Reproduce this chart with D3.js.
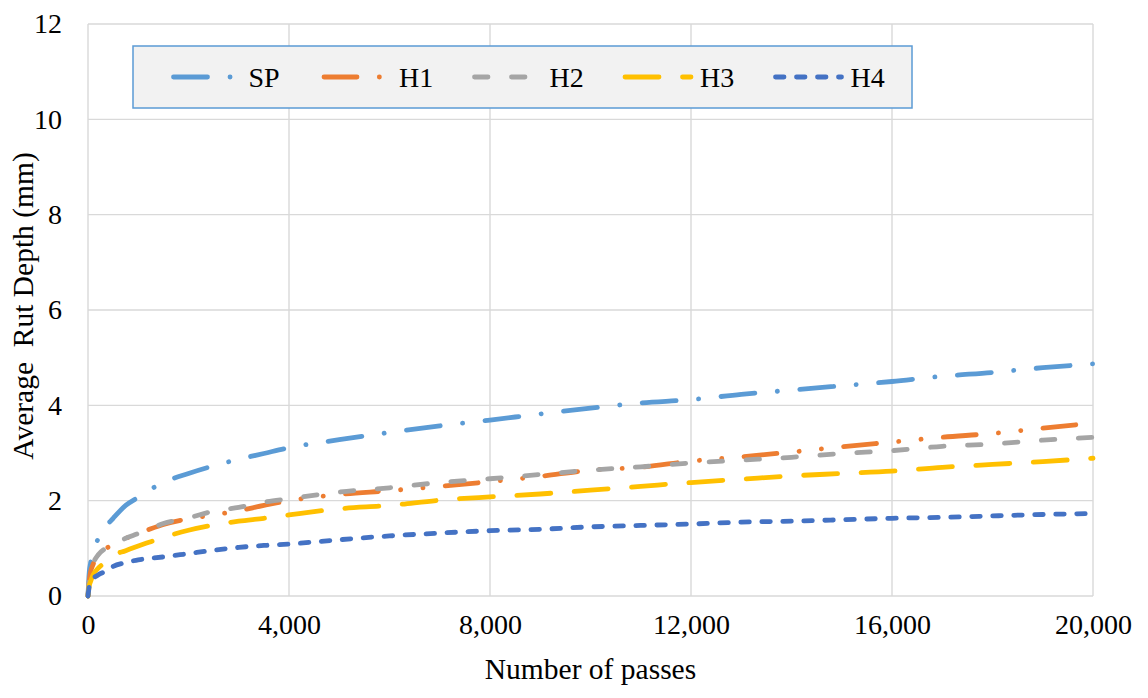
<!DOCTYPE html>
<html>
<head>
<meta charset="utf-8">
<script src="https://cdn.jsdelivr.net/npm/d3@7/dist/d3.min.js"></script>
<style>
  html, body { margin: 0; padding: 0; background: #ffffff; }
  svg { display: block; font-family: "Liberation Serif", "Times New Roman", serif; }
</style>
</head>
<body>
<svg id="chart" width="1148" height="698"></svg>
<script>
// Number of wheel passes at which rut depth is recorded
const passes = [0, 25, 50, 100, 200, 350, 500, 750, 1000, 1250, 1500, 2000, 2500, 3000, 3500, 4000,
  5000, 6000, 7000, 8000, 9000, 10000, 11000, 12000, 13000, 14000, 15000, 16000, 17000, 18000, 19000, 20000];

// Average rut depth (mm) for each mix
const SP = [0, 0.50, 0.68, 0.88, 1.20, 1.45, 1.63, 1.90, 2.07, 2.24, 2.38, 2.57, 2.73, 2.87, 2.99, 3.11,
  3.28, 3.43, 3.57, 3.69, 3.82, 3.94, 4.05, 4.12, 4.23, 4.32, 4.41, 4.50, 4.61, 4.69, 4.79, 4.87];
const H1 = [0, 0.32, 0.50, 0.66, 0.86, 0.99, 1.08, 1.21, 1.31, 1.41, 1.50, 1.62, 1.70, 1.79, 1.90, 2.00,
  2.13, 2.21, 2.30, 2.40, 2.51, 2.64, 2.70, 2.83, 2.92, 3.02, 3.13, 3.23, 3.33, 3.41, 3.52, 3.63];
const H2 = [0, 0.35, 0.52, 0.68, 0.86, 1.00, 1.08, 1.21, 1.31, 1.42, 1.52, 1.64, 1.78, 1.86, 1.97, 2.04,
  2.18, 2.27, 2.38, 2.46, 2.55, 2.64, 2.71, 2.79, 2.85, 2.91, 2.99, 3.05, 3.14, 3.19, 3.27, 3.33];
const H3 = [0, 0.22, 0.30, 0.44, 0.58, 0.71, 0.85, 0.95, 1.05, 1.14, 1.23, 1.38, 1.49, 1.57, 1.63, 1.70,
  1.83, 1.90, 2.01, 2.08, 2.14, 2.22, 2.30, 2.38, 2.45, 2.52, 2.57, 2.62, 2.70, 2.76, 2.82, 2.89];
const H4 = [0, 0.20, 0.27, 0.36, 0.44, 0.52, 0.62, 0.70, 0.76, 0.79, 0.82, 0.89, 0.96, 1.02, 1.06, 1.09,
  1.18, 1.26, 1.32, 1.37, 1.40, 1.45, 1.48, 1.51, 1.55, 1.57, 1.60, 1.63, 1.65, 1.68, 1.71, 1.73];

const seriesNames = ["SP", "H1", "H2", "H3", "H4"];
const seriesValues = [SP, H1, H2, H3, H4];

const xTicks = [0, 4000, 8000, 12000, 16000, 20000];
const yTicks = [0, 2, 4, 6, 8, 10, 12];

const xTitle = "Number of passes";
const yTitle = "Average  Rut Depth (mm)";

// Office palette and line dash styles per series
const colors = ["#5B9BD5", "#ED7D31", "#A5A5A5", "#FFC000", "#4472C4"];
const dashes = [
  "34 22.5 0.1 22.5",            // long dash dot
  "33 22.3 0.1 22.3 0.1 22.3",   // long dash dot dot
  "13.5 23.5",                   // dash
  "34 23.5",                     // long dash
  "8.5 12.5"                     // short dash
];

const W = 1148, H = 698;
const margin = { left: 88, right: 55, top: 24, bottom: 102 };
const svg = d3.select("#chart");

const x = d3.scaleLinear().domain([0, 20000]).range([margin.left, W - margin.right]);
const y = d3.scaleLinear().domain([0, 12]).range([H - margin.bottom, margin.top]);

// gridlines
const grid = svg.append("g").attr("stroke", "#d9d9d9").attr("stroke-width", 1.4);
grid.selectAll("line.h").data(yTicks).join("line")
  .attr("x1", x(0)).attr("x2", x(20000))
  .attr("y1", d => y(d)).attr("y2", d => y(d));
grid.selectAll("line.v").data(xTicks).join("line")
  .attr("x1", d => x(d)).attr("x2", d => x(d))
  .attr("y1", y(0)).attr("y2", y(12));

// axes (labels only, styled like the chart's tick text)
const xAxis = d3.axisBottom(x).tickValues(xTicks).tickFormat(d3.format(",")).tickSize(0).tickPadding(18);
const yAxis = d3.axisLeft(y).tickValues(yTicks).tickFormat(d3.format("d")).tickSize(0).tickPadding(26);

const gx = svg.append("g").attr("transform", `translate(0,${y(0)})`).call(xAxis);
const gy = svg.append("g").attr("transform", `translate(${x(0)},0)`).call(yAxis);
[gx, gy].forEach(g => {
  g.select(".domain").remove();
  g.selectAll("text")
    .attr("font-family", "Liberation Serif, Times New Roman, serif")
    .attr("font-size", 28).attr("fill", "#000000");
});

// series lines
const line = d3.line()
  .x((d, i) => x(passes[i]))
  .y(d => y(d))
  .curve(d3.curveMonotoneX);

const plot = svg.append("g");
seriesValues.forEach((vals, k) => {
  plot.append("path")
    .datum(vals)
    .attr("d", line)
    .attr("fill", "none")
    .attr("stroke", colors[k])
    .attr("stroke-width", 4.8)
    .attr("stroke-linecap", "round")
    .attr("stroke-linejoin", "round")
    .attr("stroke-dasharray", dashes[k]);
});

// axis titles
svg.append("text")
  .attr("x", (x(0) + x(20000)) / 2).attr("y", 679)
  .attr("text-anchor", "middle")
  .attr("font-size", 29.5).attr("fill", "#000000")
  .text(xTitle);

svg.append("text")
  .attr("transform", `translate(33,${(y(0) + y(12)) / 2 - 4}) rotate(-90)`)
  .attr("text-anchor", "middle")
  .attr("font-size", 29.5).attr("fill", "#000000")
  .style("white-space", "pre")
  .text(yTitle);

// legend
const legend = svg.append("g");
legend.append("rect")
  .attr("x", 133).attr("y", 46).attr("width", 779).attr("height", 62)
  .attr("fill", "#f2f2f2").attr("stroke", "#5B9BD5").attr("stroke-width", 1.5);

const itemX = d3.scalePoint().domain(seriesNames).range([173.5, 775.5]);
seriesNames.forEach((name, k) => {
  const x0 = itemX(name);
  legend.append("path")
    .attr("d", `M${x0},77 H${x0 + 66}`)
    .attr("fill", "none")
    .attr("stroke", colors[k])
    .attr("stroke-width", 4.8)
    .attr("stroke-linecap", "round")
    .attr("stroke-dasharray", dashes[k]);
  legend.append("text")
    .attr("x", x0 + 75).attr("y", 86.5)
    .attr("font-size", 28).attr("fill", "#000000")
    .text(name);
});
</script>
</body>
</html>
